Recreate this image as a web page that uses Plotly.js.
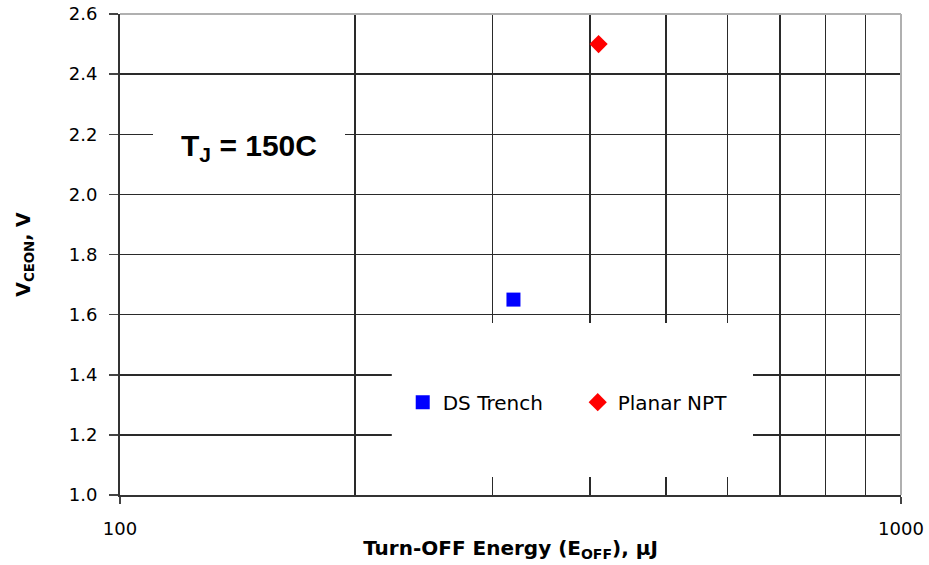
<!DOCTYPE html>
<html>
<head>
<meta charset="utf-8">
<script src="https://cdn.plot.ly/plotly-3.0.1.min.js"></script>
<style>html,body{margin:0;padding:0;background:#fff;}#chart{width:929px;height:565px;}</style>
</head>
<body>
<div id="chart"></div>
<script>
// Data
const seriesNames = ["DS Trench", "Planar NPT"];
const eoffDSTrench = [319];      // Turn-OFF energy, µJ
const vceonDSTrench = [1.65];    // V
const eoffPlanarNPT = [410];
const vceonPlanarNPT = [2.5];
const xTickVals = [100, 1000];
const xTickText = ["100", "1000"];
const xGridVals = [200, 300, 400, 500, 600, 700, 800, 900];
const yTickVals = [1.0, 1.2, 1.4, 1.6, 1.8, 2.0, 2.2, 2.4, 2.6];
const annotationText = "T<sub>J</sub> = 150C";

const tickFont = {family: "DejaVu Sans", size: 18, color: "#000"};
const gridCol = "#2a2a2a";

const traces = [
  {
    x: eoffDSTrench, y: vceonDSTrench, name: seriesNames[0],
    type: "scatter", mode: "markers",
    marker: {symbol: "square", size: 14, color: "#0000ff"}
  },
  {
    x: eoffPlanarNPT, y: vceonPlanarNPT, name: seriesNames[1],
    type: "scatter", mode: "markers",
    marker: {symbol: "diamond", size: 14, color: "#ff0000"}
  }
];

const layout = {
  width: 929, height: 565,
  margin: {l: 120, r: 28, t: 14, b: 70, pad: 0},
  paper_bgcolor: "#fff", plot_bgcolor: "#fff",
  showlegend: true,
  legend: {
    orientation: "h", x: 0.362, y: 0.193, xanchor: "left", yanchor: "middle",
    bgcolor: "rgba(0,0,0,0)", borderwidth: 0,
    font: {family: "DejaVu Sans", size: 20, color: "#000"},
    itemwidth: 30, entrywidth: 130, entrywidthmode: "pixels"
  },
  xaxis: {
    type: "log", range: [2, 3],
    tickmode: "array", tickvals: xTickVals, ticktext: xTickText,
    ticks: "outside", ticklen: 7, tickwidth: 1.5, tickcolor: "#444",
    ticklabelstandoff: 9,
    tickfont: tickFont,
    showgrid: true, gridcolor: "#b0b0b0", gridwidth: 1.5,
    minor: {tickmode: "array", tickvals: xGridVals, showgrid: true, gridcolor: gridCol, gridwidth: 1.5, ticks: ""},
    showline: true, linecolor: "#333", linewidth: 2,
    zeroline: false, automargin: false,
    title: {text: "Turn-OFF Energy (E<sub>OFF</sub>), µJ", standoff: 3,
            font: {family: "DejaVu Sans", size: 20, color: "#000", weight: "bold"}}
  },
  yaxis: {
    range: [1.0, 2.6],
    tickmode: "array", tickvals: yTickVals, tickformat: ".1f",
    ticks: "outside", ticklen: 9, tickwidth: 1.5, tickcolor: "#444",
    ticklabelstandoff: 8,
    tickfont: tickFont,
    showgrid: true, gridcolor: gridCol, gridwidth: 1.5,
    showline: true, linecolor: "#333", linewidth: 2,
    zeroline: false, automargin: false,
    title: {text: "V<sub>CEON</sub>, V", standoff: 33,
            font: {family: "DejaVu Sans", size: 19, color: "#000", weight: "bold"}}
  },
  shapes: [
    {type: "rect", xref: "paper", yref: "paper", x0: 0.348, x1: 0.8105, y0: 0.0374, y1: 0.3576,
     fillcolor: "#fff", line: {width: 0}, layer: "above"},
    {type: "line", xref: "paper", yref: "paper", x0: 0, x1: 1, y0: 1, y1: 1,
     line: {color: "#b0b0b0", width: 2}, layer: "above"},
    {type: "line", xref: "paper", yref: "paper", x0: 1, x1: 1, y0: 0, y1: 1,
     line: {color: "#b0b0b0", width: 2}, layer: "above"}
  ],
  annotations: [
    {text: annotationText, xref: "paper", yref: "paper", x: 0.1655, y: 0.7225,
     xanchor: "center", yanchor: "middle", showarrow: false,
     width: 192, height: 59, bgcolor: "#fff", borderpad: 0, borderwidth: 0,
     font: {family: "Liberation Sans", size: 30, color: "#000", weight: "bold"}}
  ]
};

Plotly.newPlot("chart", traces, layout, {displayModeBar: false, staticPlot: true});
</script>
</body>
</html>
